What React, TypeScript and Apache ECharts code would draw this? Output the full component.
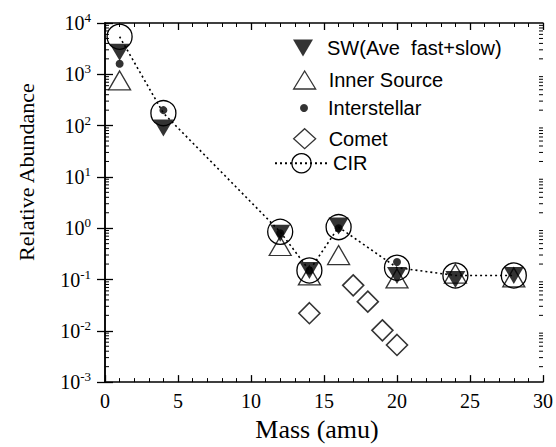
import React, { useEffect, useRef } from "react";
import * as echarts from "echarts";

// ---- data ----
const swMass = [1, 4, 12, 14, 16, 20, 24, 28];
const swVal = [2700, 90, 0.8, 0.15, 1.1, 0.12, 0.1, 0.12];

const innerMass = [1, 12, 14, 16, 20, 24, 28];
const innerVal = [760, 0.45, 0.12, 0.3, 0.105, 0.13, 0.11];

const isMass = [1, 4, 12, 14, 16, 20];
const isVal = [1600, 200, 0.8, 0.15, 1.0, 0.22];

const cometMass = [14, 17, 18, 19, 20];
const cometVal = [0.022, 0.077, 0.037, 0.0102, 0.0053];

const cirMass = [1, 4, 12, 14, 16, 20, 24, 28];
const cirVal = [5400, 175, 0.85, 0.15, 1.05, 0.17, 0.12, 0.12];

// axis structure
const yMin = 0.001;
const yMax = 10000;
const xMin = 0;
const xMax = 30;
const xInterval = 5;
const decades = [-3, -2, -1, 0, 1, 2, 3];
const minorMultipliers = [2, 3, 4, 5, 6, 7, 8, 9];

const names = {
  sw: "SW(Ave  fast+slow)",
  inner: "Inner Source",
  is: "Interstellar",
  comet: "Comet",
  cir: "CIR",
};
const yTitle = "Relative Abundance";
const xTitle = "Mass (amu)";

const zip = (a: number[], b: number[]) => a.map((m, i) => [m, b[i]]);

const serif = "'Liberation Serif', 'Times New Roman', serif";
const sans = "'Liberation Sans', Arial, sans-serif";

export default function App() {
  const ref = useRef<HTMLDivElement>(null);

  useEffect(() => {
    if (!ref.current) return;
    const chart = echarts.init(ref.current, null, { renderer: "svg" });

    const minorTicks: number[][] = [];
    decades.forEach((d) =>
      minorMultipliers.forEach((m) => minorTicks.push([0, m * Math.pow(10, d)]))
    );

    const openStyle = { color: "rgba(0,0,0,0)", borderColor: "#000", borderWidth: 1.3 };
    const axisLine = { show: true, lineStyle: { color: "#000", width: 1.5 } };

    const xCommon = {
      type: "value" as const,
      min: xMin,
      max: xMax,
      interval: xInterval,
      axisLine,
      axisTick: { show: true, inside: true, length: 7, lineStyle: { color: "#000", width: 1.3 } },
      minorTick: { show: true, splitNumber: 5, length: 4, lineStyle: { color: "#000", width: 1 } },
      splitLine: { show: false },
      minorSplitLine: { show: false },
    };
    const yCommon = {
      type: "log" as const,
      logBase: 10,
      min: yMin,
      max: yMax,
      splitNumber: 7,
      axisLine,
      axisTick: { show: true, inside: true, length: 8, lineStyle: { color: "#000", width: 1.3 } },
      splitLine: { show: false },
    };

    const legendBase = {
      orient: "vertical" as const,
      padding: 0,
      selectedMode: false,
      textStyle: { fontFamily: sans, fontSize: 20, color: "#000", padding: [0, 0, 0, 8] },
    };

    const option: any = {
      animation: false,
      backgroundColor: "#fff",
      grid: { left: 105, right: 5, top: 23, bottom: 56, containLabel: false },
      graphic: [
        {
          type: "text",
          x: 26,
          y: 172,
          rotation: Math.PI / 2,
          style: {
            text: yTitle,
            fontFamily: serif,
            fontSize: 22,
            fill: "#000",
            align: "center",
            verticalAlign: "middle",
          },
        },
      ],
      xAxis: [
        {
          ...xCommon,
          position: "bottom",
          axisLabel: { show: true, color: "#000", fontFamily: serif, fontSize: 20, margin: 9 },
          name: xTitle,
          nameLocation: "middle",
          nameGap: 32,
          nameTextStyle: { fontFamily: serif, fontSize: 26, color: "#000", padding: [0, 14, 0, 0] },
        },
        { ...xCommon, position: "top", axisLabel: { show: false } },
      ],
      yAxis: [
        {
          ...yCommon,
          position: "left",
          axisLabel: {
            show: true,
            margin: 14,
            formatter: (v: number) => `{b|10}{s|${Math.round(Math.log10(v))}}`,
            rich: {
              b: { fontFamily: serif, fontSize: 20, color: "#000", lineHeight: 24 },
              s: { fontFamily: serif, fontSize: 13, color: "#000", lineHeight: 13, verticalAlign: "top" },
            },
          },
        },
        { ...yCommon, position: "right", axisLabel: { show: false } },
      ],
      legend: [
        {
          ...legendBase,
          data: [{ name: names.sw, icon: "path://M0,0L20,0L10,17Z" }],
          left: 293,
          top: 38,
          itemWidth: 22,
          itemHeight: 17,
          itemStyle: { color: "#000", borderWidth: 0 },
        },
        {
          ...legendBase,
          data: [{ name: names.inner, icon: "triangle" }],
          left: 293,
          top: 70,
          itemWidth: 22,
          itemHeight: 18,
          itemStyle: openStyle,
        },
        {
          ...legendBase,
          data: [{ name: names.is, icon: "circle" }],
          left: 300,
          top: 98,
          itemWidth: 8,
          itemHeight: 8,
          itemStyle: { color: "#000", borderWidth: 0 },
          textStyle: { ...legendBase.textStyle, padding: [0, 0, 0, 15] },
        },
        {
          ...legendBase,
          data: [{ name: names.comet, icon: "diamond" }],
          left: 293,
          top: 128,
          itemWidth: 22,
          itemHeight: 20,
          itemStyle: openStyle,
        },
        {
          ...legendBase,
          data: [{ name: names.cir }],
          left: 274,
          top: 153,
          itemWidth: 53,
          itemHeight: 24,
          itemStyle: openStyle,
          textStyle: { ...legendBase.textStyle, padding: [0, 0, 0, 0] },
        },
      ],
      series: [
        {
          name: names.cir,
          type: "line",
          data: zip(cirMass, cirVal),
          symbol: "circle",
          symbolSize: 25,
          showSymbol: true,
          lineStyle: { color: "#000", width: 1.6, type: [2, 3] },
          itemStyle: openStyle,
          emphasis: { disabled: true },
          z: 2,
        },
        {
          name: names.inner,
          type: "scatter",
          data: zip(innerMass, innerVal),
          symbol: "triangle",
          symbolSize: [22, 19],
          itemStyle: openStyle,
          emphasis: { disabled: true },
          z: 3,
        },
        {
          name: names.comet,
          type: "scatter",
          data: zip(cometMass, cometVal),
          symbol: "diamond",
          symbolSize: [21, 21],
          itemStyle: { ...openStyle, borderWidth: 1.6 },
          emphasis: { disabled: true },
          z: 3,
        },
        {
          name: names.sw,
          type: "scatter",
          data: zip(swMass, swVal),
          symbol: "path://M0,0L20,0L10,17Z",
          symbolSize: [20, 17],
          itemStyle: { color: "#000" },
          emphasis: { disabled: true },
          z: 4,
        },
        {
          name: names.is,
          type: "scatter",
          data: zip(isMass, isVal),
          symbol: "circle",
          symbolSize: 8,
          itemStyle: { color: "#000" },
          emphasis: { disabled: true },
          z: 5,
        },
        {
          name: "minorTicks",
          type: "custom",
          data: minorTicks,
          encode: { x: 0, y: 1 },
          silent: true,
          z: 6,
          renderItem: (params: any, api: any) => {
            const v = api.value(1);
            const pl = api.coord([xMin, v]);
            const pr = api.coord([xMax, v]);
            const st = { stroke: "#000", lineWidth: 1 };
            return {
              type: "group",
              children: [
                { type: "line", shape: { x1: pl[0], y1: pl[1], x2: pl[0] + 4, y2: pl[1] }, style: st },
                { type: "line", shape: { x1: pr[0] - 4, y1: pr[1], x2: pr[0], y2: pr[1] }, style: st },
              ],
            };
          },
        },
      ],
    };

    chart.setOption(option);
    return () => chart.dispose();
  }, []);

  return (
    <div
      ref={ref}
      style={{ position: "absolute", left: 0, top: 0, width: 556, height: 447 }}
    />
  );
}
